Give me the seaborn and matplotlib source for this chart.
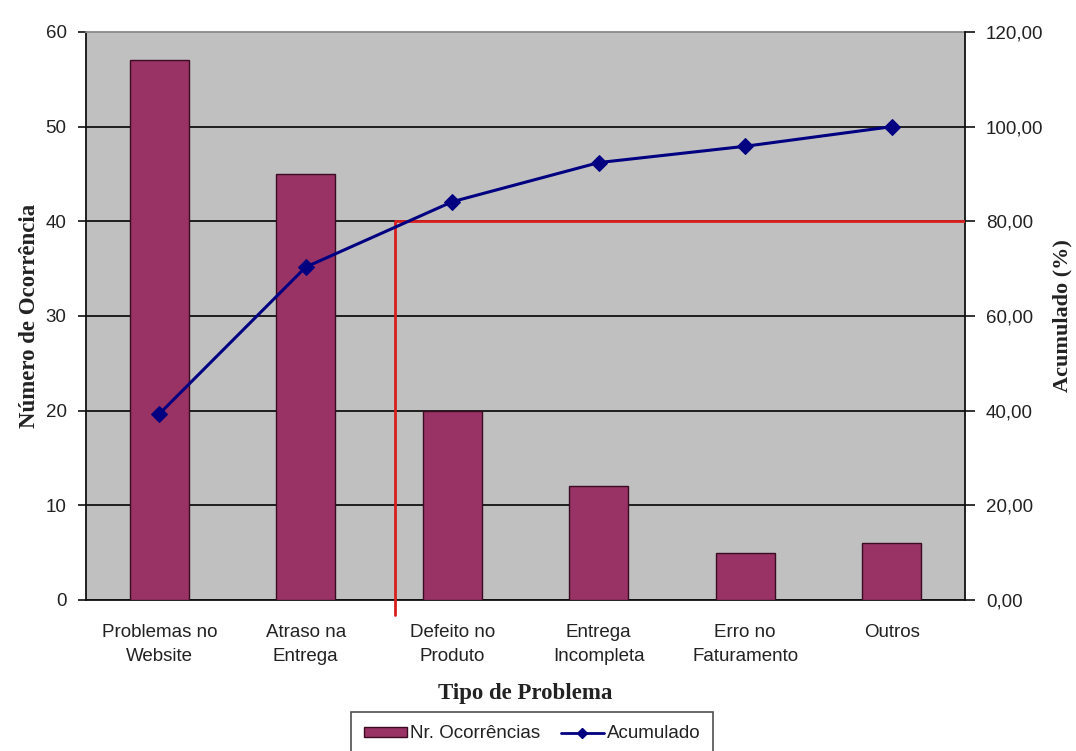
import matplotlib
matplotlib.use("Agg")
import matplotlib.pyplot as plt
from matplotlib.lines import Line2D
from matplotlib.patches import Patch
import numpy as np
import pandas as pd
import seaborn as sns

# ---- data ----
categorias = ["Problemas no\nWebsite", "Atraso na\nEntrega", "Defeito no\nProduto",
              "Entrega\nIncompleta", "Erro no\nFaturamento", "Outros"]
ocorrencias = [57, 45, 20, 12, 5, 6]
acumulado = [39.31, 70.34, 84.14, 92.41, 95.86, 100.00]
limite_pct = 80
corte_x = 1.61
ticks_esq = [0, 10, 20, 30, 40, 50, 60]
ticks_dir = [0, 20, 40, 60, 80, 100, 120]

# ---- style ----
sns.set_theme(style="white")
plt.rcParams["font.family"] = ["Liberation Sans", "DejaVu Sans"]

BAR = "#993366"
BAR_EDGE = "#3a0c22"
NAVY = "#000080"
RED = "#d81e1e"
BG = "#C0C0C0"
TXT = "#222222"
serif = ["Liberation Serif", "DejaVu Serif"]
FS = 13.5

W, H = 1076, 751
fig = plt.figure(figsize=(W / 100, H / 100), dpi=100)
fig.patch.set_facecolor("white")
ax = fig.add_axes([86 / W, 1 - 600 / H, (965 - 86) / W, (600 - 32) / H])
ax.set_facecolor(BG)

pos = np.arange(len(categorias))
df = pd.DataFrame({"pos": pos, "n": ocorrencias})
sns.barplot(data=df, x="pos", y="n", ax=ax, color=BAR, saturation=1,
            width=0.4, edgecolor=BAR_EDGE, linewidth=1.0, zorder=3)

ax.set_xlim(-0.5, len(categorias) - 0.5)
ax.set_ylim(0, 60)
ax.set_yticks(ticks_esq)
ax.set_yticklabels([str(t) for t in ticks_esq], fontsize=FS, color=TXT)
ax.yaxis.grid(True, color="#111111", linewidth=1.3, zorder=1)
ax.set_axisbelow(True)
for gl in ax.get_ygridlines()[-1:]:
    gl.set_visible(False)

ax.set_xticks(pos)
ax.set_xticklabels(categorias, fontsize=FS, color=TXT, linespacing=1.5)
ax.set_xticks(np.arange(-0.5, len(categorias), 1.0), minor=True)
ax.tick_params(axis="x", which="major", length=0, pad=17.5)
ax.tick_params(axis="x", which="minor", direction="inout", length=10, width=1.2, color="#111111")
ax.tick_params(axis="y", which="major", direction="out", length=6, width=1.2, color="#111111", pad=8, left=True)

ax.set_xlabel("Tipo de Problema", fontsize=16.5, fontweight="bold", family=serif, color=TXT)
ax.xaxis.set_label_coords(0.5, -0.147)
ax.set_ylabel("Número de Ocorrência", fontsize=16.5, fontweight="bold", family=serif, color=TXT)
ax.yaxis.set_label_coords(-0.052, 0.5)

for s in ["left", "bottom"]:
    ax.spines[s].set_color("#111111")
    ax.spines[s].set_linewidth(1.3)
ax.spines["top"].set_color("#8a8a8a")
ax.spines["top"].set_linewidth(1.3)
ax.spines["right"].set_visible(False)

# ---- cumulative line on secondary axis ----
ax2 = ax.twinx()
ax2.set_ylim(0, 120)
sns.lineplot(x=pos, y=acumulado, ax=ax2, color=NAVY, linewidth=2.2, marker="D",
             markersize=8, markeredgecolor=NAVY, markerfacecolor=NAVY, zorder=5,
             sort=False, legend=False)
ax2.hlines(limite_pct, corte_x, len(categorias) - 0.5, color=RED, linewidth=2, zorder=4)
ax2.plot([corte_x, corte_x], [limite_pct, -0.027 * 120], color=RED, linewidth=2,
         zorder=4, clip_on=False)

ax2.set_yticks(ticks_dir)
ax2.set_yticklabels([f"{t:.2f}".replace(".", ",") for t in ticks_dir], fontsize=FS, color=TXT)
ax2.tick_params(axis="y", direction="out", length=7, width=1.2, color="#111111", pad=8, right=True)
ax2.set_ylabel("Acumulado (%)", fontsize=16, fontweight="bold", family=serif, color=TXT)
ax2.yaxis.set_label_coords(1.099, 0.5)
for s in ["left", "top", "bottom"]:
    ax2.spines[s].set_visible(False)
ax2.spines["right"].set_color("#111111")
ax2.spines["right"].set_linewidth(1.3)
ax2.set_xlim(-0.5, len(categorias) - 0.5)

# ---- legend ----
handles = [Patch(facecolor=BAR, edgecolor=BAR_EDGE, linewidth=1.0),
           Line2D([], [], color=NAVY, linewidth=2, marker="D", markersize=5)]
leg = fig.legend(handles, ["Nr. Ocorrências", "Acumulado"], loc="center",
                 bbox_to_anchor=(532 / W, 1 - 734 / H), ncol=2, fontsize=FS,
                 frameon=True, fancybox=False, edgecolor="#222222",
                 handlelength=2.3, handleheight=0.5, handletextpad=0.15,
                 columnspacing=1.1, borderpad=0.7, borderaxespad=0)
leg.get_frame().set_linewidth(1.2)
for t in leg.get_texts():
    t.set_color(TXT)

fig.savefig("out.png", dpi=100)
